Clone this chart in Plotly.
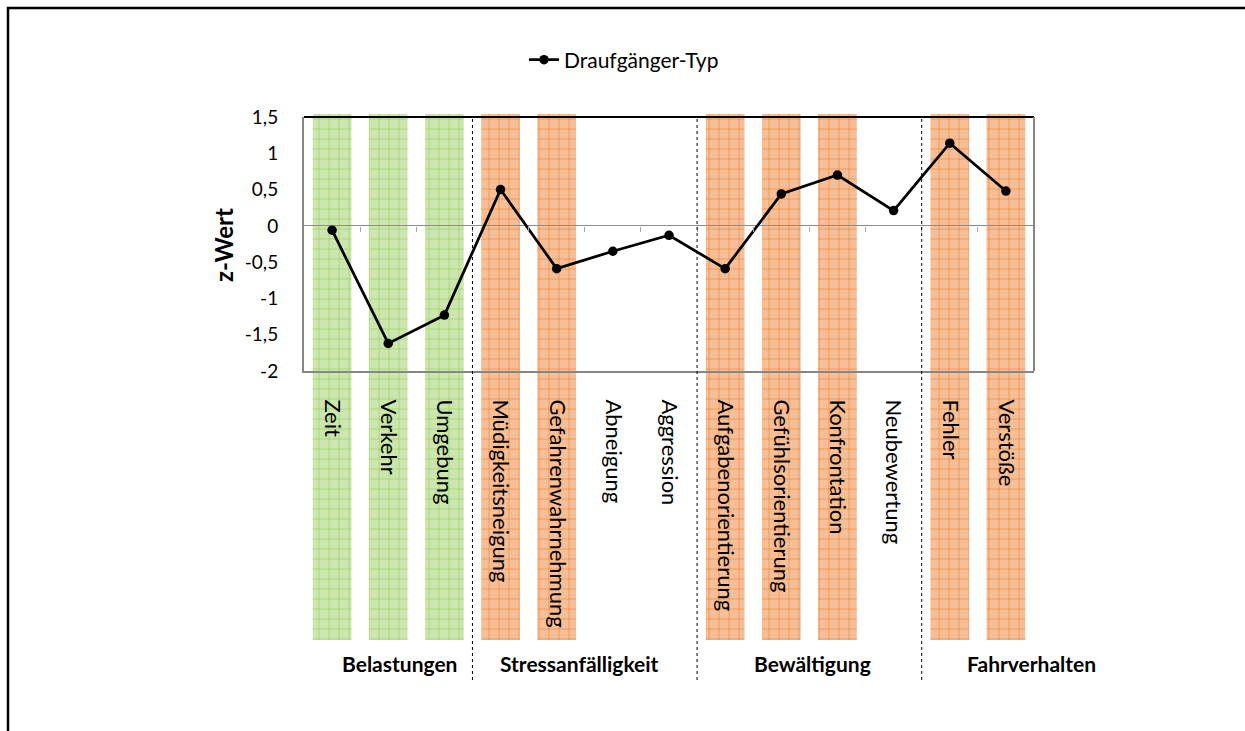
import plotly.graph_objects as go

categories = ["Zeit", "Verkehr", "Umgebung", "Müdigkeitsneigung", "Gefahrenwahrnehmung",
              "Abneigung", "Aggression", "Aufgabenorientierung", "Gefühlsorientierung",
              "Konfrontation", "Neubewertung", "Fehler", "Verstöße"]
z_values = [-0.06, -1.62, -1.23, 0.50, -0.59, -0.35, -0.13, -0.59, 0.44, 0.70, 0.21, 1.14, 0.48]
# highlight band per category: "g" green, "o" orange, "" none
highlight = ["g", "g", "g", "o", "o", "", "", "o", "o", "o", "", "o", "o"]
groups = ["Belastungen", "Stressanfälligkeit", "Bewältigung", "Fahrverhalten"]
group_x = [1.2, 4.4, 8.55, 12.45]
separators = [2.5, 6.5, 10.5]
y_tickvals = [1.5, 1, 0.5, 0, -0.5, -1, -1.5, -2]
y_ticktext = ["1,5", "1", "0,5", "0", "-0,5", "-1", "-1,5", "-2"]

W, H = 1245, 731
def px(x): return x / W
def py(y): return 1 - y / H

FONT = "Lato"
idx = list(range(len(categories)))

fig = go.Figure()

# background bands (bars) on hidden subplot
band_styles = {"g": ("#cde6b0", "#95cf56"), "o": ("#f6bf97", "#ed8533")}
for key, (bg, fg) in band_styles.items():
    xs = [i for i, h in zip(idx, highlight) if h == key]
    fig.add_trace(go.Bar(
        x=xs, y=[1] * len(xs), width=0.69, xaxis="x", yaxis="y",
        marker=dict(color=bg, line=dict(width=0),
                    pattern=dict(shape="+", size=10, solidity=0.12, fgcolor=fg, bgcolor=bg, fgopacity=1)),
        showlegend=False, hoverinfo="skip"))

fig.add_trace(go.Scatter(
    x=idx, y=z_values, xaxis="x2", yaxis="y2", mode="lines+markers",
    name="Draufgänger-Typ",
    line=dict(color="black", width=2.75),
    marker=dict(color="black", size=9.5, symbol="circle")))

# invisible trace to activate xaxis3 (zero-line tick marks)
fig.add_trace(go.Scatter(x=[0], y=[0], xaxis="x3", yaxis="y2", mode="markers",
                         marker=dict(opacity=0), showlegend=False, hoverinfo="skip"))

dom_x = [px(304), px(1034)]
fig.update_layout(
    width=W, height=H,
    margin=dict(l=0, r=0, t=0, b=0, pad=0),
    paper_bgcolor="white", plot_bgcolor="rgba(0,0,0,0)",
    font=dict(family=FONT, size=16, color="black"),
    barmode="overlay",
    xaxis=dict(domain=dom_x, range=[-0.5, 12.5], visible=False, fixedrange=True, automargin=False),
    yaxis=dict(domain=[py(640), py(114)], range=[0, 1], visible=False, fixedrange=True, automargin=False),
    xaxis2=dict(domain=dom_x, range=[-0.5, 12.5], anchor="y2", automargin=False,
                tickmode="array", tickvals=idx, ticktext=categories, tickangle=90,
                ticks="", showline=True, linecolor="#868686", linewidth=2,
                showgrid=False, zeroline=False, ticklabelstandoff=22,
                tickfont=dict(family=FONT, size=22)),
    yaxis2=dict(domain=[py(371), py(117)], range=[-2, 1.5], anchor="x2", automargin=False,
                tickmode="array", tickvals=y_tickvals, ticktext=y_ticktext,
                showline=True, linecolor="#868686", linewidth=2,
                showgrid=False, zeroline=True, zerolinecolor="#8c8c8c", zerolinewidth=1,
                ticks="", ticklabelstandoff=20, tickfont=dict(family=FONT, size=19)),
    xaxis3=dict(domain=dom_x, range=[-0.5, 12.5], overlaying="x2", anchor="free", automargin=False,
                position=py(117 + 1.5 * (371 - 117) / 3.5), side="bottom",
                tickmode="array", tickvals=[i + 0.5 for i in idx[:-1]], ticks="outside",
                ticklen=5, tickcolor="#a6a6a6", showticklabels=False, showline=False,
                showgrid=False, zeroline=False),
    legend=dict(orientation="h", x=px(624), y=py(60), xanchor="center", yanchor="middle",
                font=dict(family=FONT, size=21), bgcolor="rgba(0,0,0,0)"),
    showlegend=True,
)

shapes = []
# plot area top (black) and right (gray) borders
shapes.append(dict(type="line", xref="x2 domain", yref="y2 domain", x0=0, x1=1, y0=1, y1=1,
                   line=dict(color="black", width=2), layer="above"))
shapes.append(dict(type="line", xref="x2 domain", yref="y2 domain", x0=1, x1=1, y0=0, y1=1,
                   line=dict(color="#868686", width=2), layer="above"))
for s in separators:
    shapes.append(dict(type="line", xref="x2", yref="paper", x0=s, x1=s, y0=py(680), y1=py(117),
                       line=dict(color="black", width=1, dash="dot"), layer="above"))
# outer frame
shapes.append(dict(type="rect", xref="paper", yref="paper", x0=px(8), x1=px(1260), y0=py(745), y1=py(8),
                   line=dict(color="black", width=2.5), fillcolor="rgba(0,0,0,0)", layer="above"))
fig.update_layout(shapes=shapes)

annotations = []
for g, gx in zip(groups, group_x):
    annotations.append(dict(text="<b>" + g + "</b>", x=gx, xref="x2", y=py(663), yref="paper",
                            showarrow=False, xanchor="center", yanchor="middle",
                            font=dict(family=FONT, size=21)))
annotations.append(dict(text="<b>z-Wert</b>", x=px(223), y=py(245), xref="paper", yref="paper",
                        textangle=-90, showarrow=False, xanchor="center", yanchor="middle",
                        font=dict(family=FONT, size=24)))
fig.update_layout(annotations=annotations)

fig.write_html("out.html", config={"displayModeBar": False},
               post_script="document.body.style.margin='0';document.body.style.overflow='hidden';")
